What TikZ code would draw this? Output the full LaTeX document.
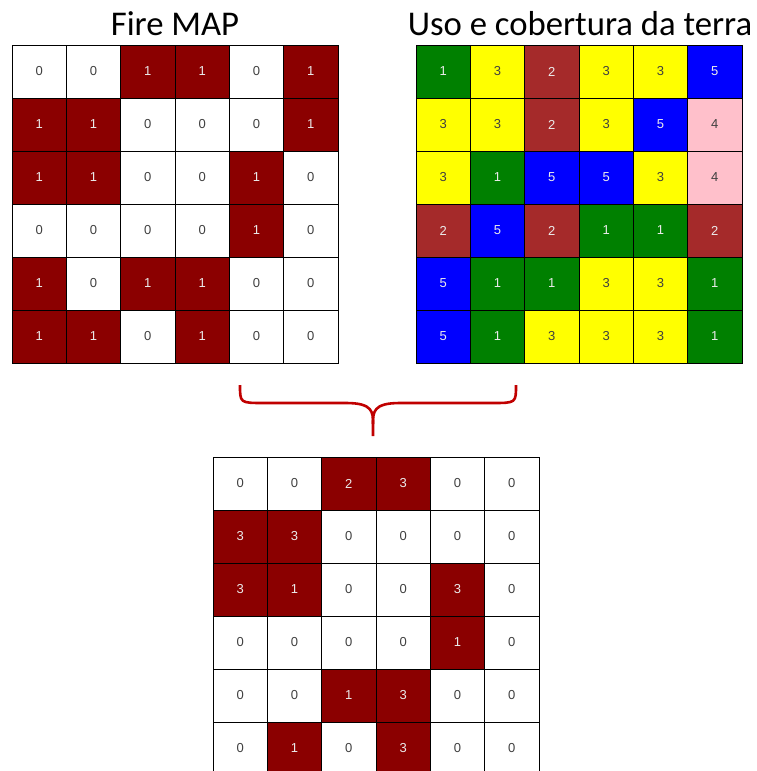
\documentclass[tikz,border=0pt]{standalone}
\usepackage{fontspec}
\setmainfont{Liberation Sans}
\newfontfamily\titlefont{Carlito}
\usepackage{xcolor}
\usepackage{tikz}
\usetikzlibrary{positioning}

\definecolor{firered}{HTML}{8B0000}
\definecolor{lugreen}{HTML}{008000}
\definecolor{lubrown}{HTML}{A52A2A}
\definecolor{luyellow}{HTML}{FFFF00}
\definecolor{lupink}{HTML}{FFC0CB}
\definecolor{lublue}{HTML}{0000FF}
\definecolor{bracered}{HTML}{C00000}

\begin{document}
\begin{tikzpicture}[x=1pt,y=-1pt,
  cell/.style={draw=black,line width=0.8pt,minimum width=54.33pt,minimum height=53pt,
    inner sep=0pt,font=\fontsize{13}{15}\selectfont,text=black!75},
  dark/.style={cell,text=white!92!black},
  fire0/.style={cell,fill=white},
  fire1/.style={dark,fill=firered},
  lu1/.style={dark,fill=lugreen},
  lu2/.style={dark,fill=lubrown},
  lu3/.style={cell,fill=luyellow},
  lu4/.style={cell,fill=lupink},
  lu5/.style={dark,fill=lublue},
  res0/.style={cell,fill=white},
  res1/.style={dark,fill=firered},
  res2/.style={dark,fill=firered},
  res3/.style={dark,fill=firered},
  title/.style={font=\titlefont\fontsize{34.7}{40}\selectfont,anchor=base},
  brace/.style={bracered,line width=2.6pt}]
  \useasboundingbox (0,0) rectangle (756,771);
  \clip (0,0) rectangle (756,771);

  % Fire MAP
  \foreach \row [count=\r] in {{0,0,1,1,0,1},{1,1,0,0,0,1},{1,1,0,0,1,0},
                               {0,0,0,0,1,0},{1,0,1,1,0,0},{1,1,0,1,0,0}}
    \foreach \v [count=\c] in \row
      \node[fire\v] (fire-\r-\c) at ({12+(\c-0.5)*54.33},{45+(\r-0.5)*53}) {\v};
  \node[title] (firetitle) at (175,35) {Fire MAP};

  % Uso e cobertura da terra
  \foreach \row [count=\r] in {{1,3,2,3,3,5},{3,3,2,3,5,4},{3,1,5,5,3,4},
                               {2,5,2,1,1,2},{5,1,1,3,3,1},{5,1,3,3,3,1}}
    \foreach \v [count=\c] in \row
      \node[lu\v] (lu-\r-\c) at ({416+(\c-0.5)*54.33},{45+(\r-0.5)*53}) {\v};
  \node[title] (lutitle) at (580,35) {Uso e cobertura da terra};

  % brace
  \coordinate (braceL) at (240,385);
  \coordinate (braceR) at (516,385);
  \coordinate (braceTip) at (373,436);
  \draw[brace] (braceL) .. controls (240,403) .. (264,403) -- (346,403)
    .. controls (373,403) and (373,412) .. (373,424) -- (braceTip);
  \draw[brace] (braceR) .. controls (516,403) .. (492,403) -- (400,403)
    .. controls (373,403) and (373,412) .. (373,424);

  % result
  \foreach \row [count=\r] in {{0,0,2,3,0,0},{3,3,0,0,0,0},{3,1,0,0,3,0},
                               {0,0,0,0,1,0},{0,0,1,3,0,0},{0,1,0,3,0,0}}
    \foreach \v [count=\c] in \row
      \node[res\v] (res-\r-\c) at ({213+(\c-0.5)*54.33},{457+(\r-0.5)*53}) {\v};
\end{tikzpicture}
\end{document}
